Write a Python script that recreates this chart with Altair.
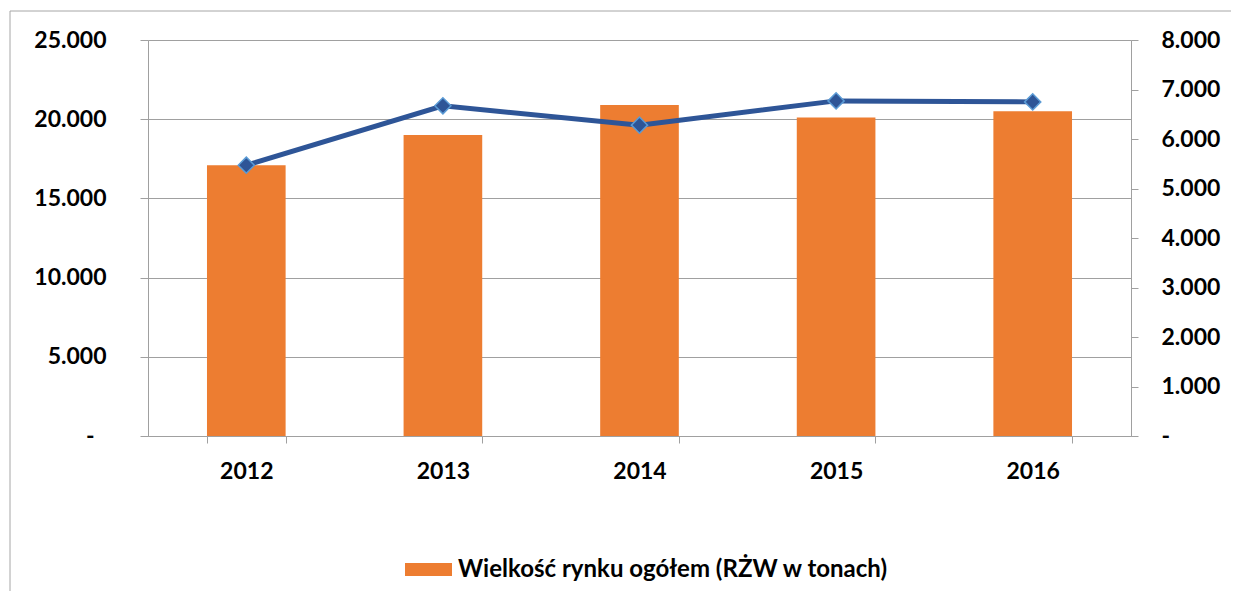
import altair as alt
import pandas as pd

years = ["2012", "2013", "2014", "2015", "2016"]
market_total = [17100, 19000, 20900, 20100, 20500]
second_series = [5470, 6670, 6280, 6770, 6750]
series_name = "Wielkość rynku ogółem (RŻW w tonach)"
left_ticks = [0, 5000, 10000, 15000, 20000, 25000]
right_ticks = [0, 1000, 2000, 3000, 4000, 5000, 6000, 7000, 8000]

df = pd.DataFrame({
    "year": years,
    "total": market_total,
    "second": second_series,
    "series": [series_name] * len(years),
})

FONT = "Lato"
GRAY = "#A0A0A0"

x_enc = alt.X(
    "year:O",
    scale=alt.Scale(paddingInner=0.6, paddingOuter=0.3),
    axis=alt.Axis(
        title=None, labelAngle=0, tickBand="extent", ticks=True,
        tickColor=GRAY, tickSize=7, domainColor=GRAY, grid=False,
        labelFont=FONT, labelFontSize=23, labelFontWeight="bold",
        labelColor="black", labelPadding=17,
    ),
)

frame = alt.Chart(alt.Data(values=[{"a": 1}])).mark_rect(
    fill=None, stroke="#A6A6A6", strokeWidth=1
).encode(
    x=alt.value(-138), x2=alt.value(3000), y=alt.value(-29), y2=alt.value(3000)
)

bars = alt.Chart(df).mark_bar(color="#ED7D31").encode(
    x=x_enc,
    y=alt.Y(
        "total:Q",
        scale=alt.Scale(domain=[0, 25000], nice=False),
        axis=alt.Axis(
            title=None, orient="left", values=left_ticks, grid=True,
            gridColor=GRAY, domainColor=GRAY, tickColor=GRAY, tickSize=8,
            labelPadding={"condition": {"test": "datum.value == 0", "value": 46}, "value": 34},
            labelFont=FONT, labelFontSize=23,
            labelFontWeight="bold", labelColor="black",
            labelExpr="datum.value == 0 ? '-' : replace(format(datum.value, ','), ',', '.')",
        ),
    ),
    color=alt.Color(
        "series:N",
        scale=alt.Scale(domain=[series_name], range=["#ED7D31"]),
        legend=alt.Legend(
            title=None, orient="none", legendX=257, legendY=506,
            symbolType="M-1,-0.28L1,-0.28L1,0.28L-1,0.28Z",
            symbolSize=2209, symbolStrokeWidth=0, symbolFillColor="#ED7D31",
            labelFont=FONT, labelFontSize=24, labelFontWeight="bold",
            labelColor="black", labelOffset=6, labelLimit=1000,
        ),
    ),
)

y_right = alt.Y(
    "second:Q",
    scale=alt.Scale(domain=[0, 8000], nice=False),
    axis=alt.Axis(
        title=None, orient="right", values=right_ticks, grid=False,
        domainColor=GRAY, tickColor=GRAY, tickSize=7, labelPadding=23,
        labelFont=FONT, labelFontSize=23, labelFontWeight="bold",
        labelColor="black",
        labelExpr="datum.value == 0 ? '-' : replace(format(datum.value, ','), ',', '.')",
    ),
)

line = alt.Chart(df).mark_line(color="#2E5597", strokeWidth=5).encode(
    x=x_enc, y=y_right
)
points = alt.Chart(df).mark_point(
    shape="diamond", filled=True, size=260, fill="#2E5597",
    stroke="#5B9BD5", strokeWidth=1.5, opacity=1
).encode(x=x_enc, y=y_right)

right_layer = alt.layer(line, points)

chart = alt.layer(frame, bars, right_layer).resolve_scale(
    y="independent"
).properties(
    width=983, height=396,
    autosize=alt.AutoSizeParams(type="none"),
    padding={"left": 140, "top": 32, "right": 100, "bottom": 155},
).configure_view(strokeWidth=0).configure(background="white")

chart.save("out.html", embed_options={"renderer": "svg", "actions": False})
